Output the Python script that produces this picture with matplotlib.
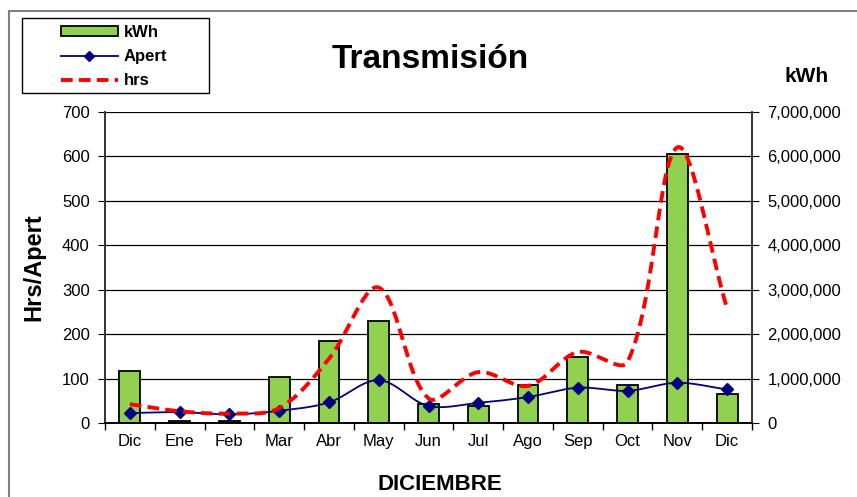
import matplotlib
matplotlib.use('Agg')
import matplotlib.pyplot as plt
import numpy as np
from matplotlib.lines import Line2D
from matplotlib.ticker import FuncFormatter, MultipleLocator

plt.rcParams['font.family'] = ['Liberation Sans', 'DejaVu Sans']

meses = ['Dic', 'Ene', 'Feb', 'Mar', 'Abr', 'May', 'Jun', 'Jul', 'Ago', 'Sep', 'Oct', 'Nov', 'Dic']
kwh = [1170000, 50000, 60000, 1050000, 1860000, 2290000, 430000, 380000,
       850000, 1480000, 870000, 6050000, 650000]
apert = [23, 25, 20, 28, 47, 97, 39, 46, 59, 80, 73, 91, 76]
hrs = [43, 27, 22, 34, 145, 305, 56, 115, 84, 160, 138, 620, 258]


def smooth(xs, ys, n=30, sx=49.8, sy=0.446):
    # curva suavizada parecida a la de Excel (Bezier, control segun longitud de tramos)
    p = np.column_stack([np.asarray(xs, float), np.asarray(ys, float)])
    scale = np.array([sx, sy])
    m = len(p)
    out_c, in_c = [], []
    for i in range(m):
        a = p[max(i - 1, 0)]
        b = p[min(i + 1, m - 1)]
        d = b - a
        l1 = np.linalg.norm((p[i] - a) * scale)
        l2 = np.linalg.norm((b - p[i]) * scale)
        tot = l1 + l2 if l1 + l2 > 0 else 1
        out_c.append(p[i] + d * (l2 / tot) / 3)
        in_c.append(p[i] - d * (l1 / tot) / 3)
    t = np.linspace(0, 1, n)[:, None]
    outx, outy = [], []
    for i in range(m - 1):
        b = (1 - t) ** 3 * p[i] + 3 * (1 - t) ** 2 * t * out_c[i] \
            + 3 * (1 - t) * t ** 2 * in_c[i + 1] + t ** 3 * p[i + 1]
        outx.extend(b[:, 0])
        outy.extend(b[:, 1])
    return outx, outy


x = np.arange(len(meses))

fig = plt.figure(figsize=(8.57, 4.97), dpi=100)
ax = fig.add_axes([105 / 857, 1 - 423.3 / 497, 647 / 857, 311.6 / 497])
ax2 = ax.twinx()

ax2.bar(x, kwh, width=0.42, color='#92D050', edgecolor='black', linewidth=1.3, zorder=2)
ax2.set_ylim(0, 7000000)
ax2.yaxis.set_major_locator(MultipleLocator(1000000))
ax2.yaxis.set_major_formatter(FuncFormatter(lambda v, p: f'{int(v):,}'))
for v in range(1000000, 7000001, 1000000):
    ax2.axhline(v, color='black', linewidth=0.9, zorder=1)

ax.set_zorder(ax2.get_zorder() + 1)
ax.patch.set_visible(False)

sx, sy = smooth(x, apert)
ax.plot(sx, sy, color='#000080', linewidth=1.3, zorder=3)
ax.plot(x, apert, linestyle='none', marker='D', markersize=6, color='#000080', zorder=4)
hx, hy = smooth(x, hrs)
ax.plot(hx, hy, color='#FF0000', linewidth=2.8, dashes=(3, 1.6), zorder=5)

ax.set_ylim(0, 700)
ax.set_xlim(-0.5, len(meses) - 0.5)
ax.yaxis.set_major_locator(MultipleLocator(100))

ax.set_xticks(x)
ax.set_xticklabels(meses)
ax.set_xticks(np.arange(-0.5, len(meses)), minor=True)
ax.tick_params(axis='x', which='major', length=0, pad=8, labelsize=12)
ax.tick_params(axis='x', which='minor', length=5, direction='out', width=1)
ax.tick_params(axis='y', length=5, direction='out', labelsize=12, pad=6)
ax2.tick_params(axis='y', length=5, direction='out', labelsize=12, pad=6)

for a in (ax, ax2):
    a.spines['top'].set_visible(False)
    for s in ('left', 'right', 'bottom'):
        a.spines[s].set_linewidth(1.2)
    a.spines['left'].set_color('#333333')
    a.spines['right'].set_color('#333333')

ax.set_ylabel('Hrs/Apert', fontsize=17, fontweight='bold', labelpad=12)
fig.text(440 / 857, 1 - 485 / 497, 'DICIEMBRE', fontsize=16, fontweight='bold', ha='center', va='center')
fig.text(430 / 857, 1 - 60 / 497, 'Transmisión', fontsize=24, fontweight='bold', ha='center', va='center')
fig.text(807 / 857, 1 - 76 / 497, 'kWh', fontsize=15, fontweight='bold', ha='center', va='center')

# leyenda sin marco + marco dibujado aparte
handles = [
    plt.Rectangle((0, 0), 1, 1, facecolor='#92D050', edgecolor='black', linewidth=1.3),
    Line2D([], [], color='#000080', linewidth=1.3, marker='D', markersize=5),
    Line2D([], [], color='#FF0000', linewidth=2.8, dashes=(3, 1.6)),
]
leg = fig.legend(handles, ['kWh', 'Apert', 'hrs'], loc='upper left',
                 bbox_to_anchor=(61 / 857, 1 - 25 / 497), bbox_transform=fig.transFigure,
                 frameon=False, fontsize=12, handlelength=3.4, handleheight=0.6,
                 borderpad=0, labelspacing=0.55, handletextpad=0.35, borderaxespad=0)
for t in leg.get_texts():
    t.set_fontweight('bold')
fig.add_artist(plt.Rectangle((22 / 857, 1 - 93 / 497), 187 / 857, 75 / 497,
                             transform=fig.transFigure, fill=False,
                             edgecolor='black', linewidth=1.0))

fig.add_artist(Line2D([9 / 857, 9 / 857], [0, 1 - 11 / 497], transform=fig.transFigure,
                      color='#808080', linewidth=1.5))
fig.add_artist(Line2D([9 / 857, 1], [1 - 11 / 497, 1 - 11 / 497], transform=fig.transFigure,
                      color='#808080', linewidth=1.5))

fig.savefig('out.png', dpi=100)
